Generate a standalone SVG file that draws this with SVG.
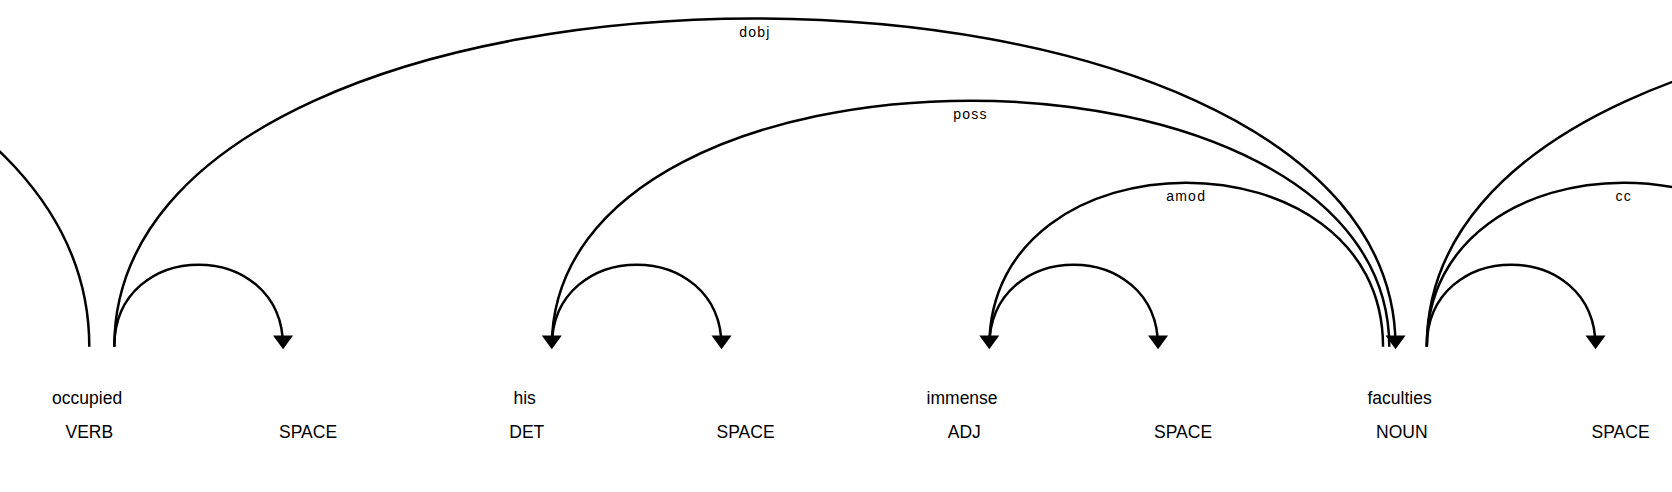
<svg xmlns="http://www.w3.org/2000/svg" width="1672" height="492" viewBox="0 0 1672 492">
<style>
.word{font-family:"Liberation Sans",Arial,sans-serif;font-size:17.5px;fill:#000;text-anchor:middle}
.lbl{font-family:"Liberation Sans",Arial,sans-serif;font-size:14px;letter-spacing:1.25px;fill:#000;text-anchor:middle}
.arc{fill:none;stroke:#000;stroke-width:2.5}
.head{fill:#000;stroke:none}
</style>
<rect width="1672" height="492" fill="#fff"/>
<g id="connectors">
<path class="arc" d="M-1635.7,346.7 C-1635.7,-200.2 89.3,-200.2 89.3,346.7"/>
<path class="arc" d="M114.3,346.7 C114.3,237.3 283.05,237.3 283.05,346.7"/>
<path class="head" d="M283.05,349.2 L273.05,335.5 L293.05,335.5 Z"/>
<path class="arc" d="M114.3,346.7 C114.3,-90.8 1395.55,-90.8 1395.55,346.7"/>
<path class="head" d="M1395.55,349.2 L1385.55,335.5 L1405.55,335.5 Z"/>
<text class="lbl" x="754.9" y="37.1">dobj</text>
<path class="arc" d="M551.8,346.7 C551.8,237.3 721.55,237.3 721.55,346.7"/>
<path class="head" d="M721.55,349.2 L711.55,335.5 L731.55,335.5 Z"/>
<path class="arc" d="M551.8,346.7 C551.8,18.6 1389.3,18.6 1389.3,346.7"/>
<path class="head" d="M551.8,349.2 L541.8,335.5 L561.8,335.5 Z"/>
<text class="lbl" x="970.55" y="119.1">poss</text>
<path class="arc" d="M989.3,346.7 C989.3,237.3 1158.05,237.3 1158.05,346.7"/>
<path class="head" d="M1158.05,349.2 L1148.05,335.5 L1168.05,335.5 Z"/>
<path class="arc" d="M989.3,346.7 C989.3,127.95 1383.05,127.95 1383.05,346.7"/>
<path class="head" d="M989.3,349.2 L979.3,335.5 L999.3,335.5 Z"/>
<text class="lbl" x="1186.2" y="201.1">amod</text>
<path class="arc" d="M1426.8,346.7 C1426.8,237.3 1595.55,237.3 1595.55,346.7"/>
<path class="head" d="M1595.55,349.2 L1585.55,335.5 L1605.55,335.5 Z"/>
<path class="arc" d="M1426.8,346.7 C1426.8,127.95 1820.55,127.95 1820.55,346.7"/>
<text class="lbl" x="1623.7" y="201.1">cc</text>
<path class="arc" d="M1426.8,346.7 C1426.8,-90.8 2708.05,-90.8 2708.05,346.7"/>
</g>
<g id="tok-occupied"><text class="word" x="87.1" y="403.5">occupied</text><text class="word" x="89.3" y="438">VERB</text></g>
<g id="tok-space1"><text class="word" x="308.05" y="438">SPACE</text></g>
<g id="tok-his"><text class="word" x="524.6" y="403.5">his</text><text class="word" x="526.8" y="438">DET</text></g>
<g id="tok-space2"><text class="word" x="745.55" y="438">SPACE</text></g>
<g id="tok-immense"><text class="word" x="962.1" y="403.5">immense</text><text class="word" x="964.3" y="438">ADJ</text></g>
<g id="tok-space3"><text class="word" x="1183.05" y="438">SPACE</text></g>
<g id="tok-faculties"><text class="word" x="1399.6" y="403.5">faculties</text><text class="word" x="1401.8" y="438">NOUN</text></g>
<g id="tok-space4"><text class="word" x="1620.55" y="438">SPACE</text></g>
</svg>
